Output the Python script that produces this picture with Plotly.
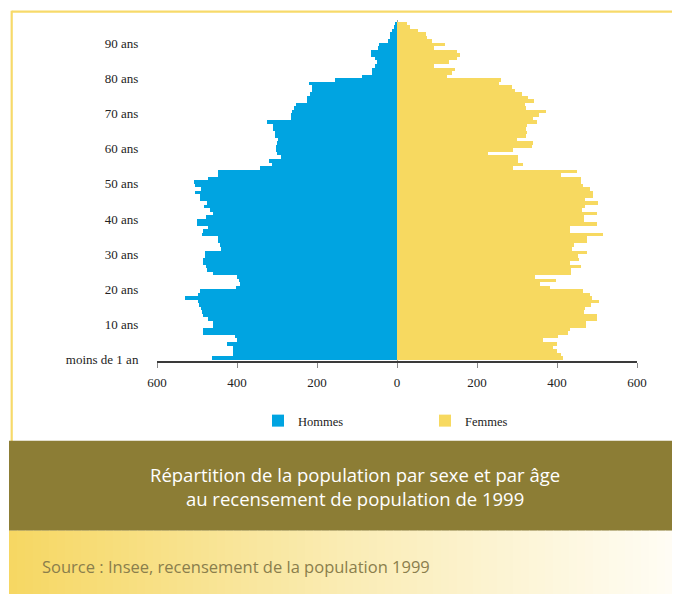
import plotly.graph_objects as go

# ---------------- data ----------------
ages = list(range(0, 96))

hommes = [
    462, 409, 411, 411, 424, 399, 405, 484, 484, 461,   # 0-9
    461, 472, 486, 488, 491, 495, 497, 530, 498, 492,   # 10-19
    403, 392, 394, 399, 459, 475, 478, 484, 486, 480,   # 20-29
    480, 440, 442, 447, 447, 488, 484, 472, 499, 499,   # 30-39
    478, 459, 467, 482, 476, 492, 492, 505, 490, 505,   # 40-49
    507, 472, 447, 447, 342, 313, 319, 291, 300, 302,   # 50-59
    302, 301, 297, 305, 305, 309, 311, 324, 266, 266,   # 60-69
    263, 257, 252, 226, 224, 217, 213, 213, 219, 155,   # 70-79
    87, 62, 62, 55, 51, 55, 66, 66, 47, 44,             # 80-89
    22, 17, 17, 13, 8, 5,                               # 90-95
]

femmes = [
    416, 409, 399, 391, 399, 366, 403, 427, 432, 472,   # 0-9
    472, 499, 499, 468, 470, 485, 506, 487, 483, 464,   # 10-19
    383, 357, 397, 345, 435, 435, 459, 432, 456, 453,   # 20-29
    474, 437, 443, 476, 476, 516, 432, 432, 499, 468,   # 30-39
    468, 501, 463, 470, 503, 470, 491, 491, 483, 466,   # 40-49
    459, 459, 410, 449, 289, 314, 302, 302, 228, 291,   # 50-59
    337, 339, 299, 322, 324, 322, 324, 349, 341, 356,   # 60-69
    372, 322, 320, 343, 328, 312, 295, 287, 256, 260,   # 70-79
    126, 137, 145, 93, 131, 149, 157, 149, 93, 120,     # 80-89
    87, 74, 72, 52, 32, 24,                             # 90-95
]

y_tickvals = [0, 10, 20, 30, 40, 50, 60, 70, 80, 90]
y_ticktext = ["moins de 1 an", "10 ans", "20 ans", "30 ans", "40 ans",
              "50 ans", "60 ans", "70 ans", "80 ans", "90 ans"]
x_tickvals = [-600, -400, -200, 0, 200, 400, 600]
x_ticktext = ["600", "400", "200", "0", "200", "400", "600"]

series_names = ["Hommes", "Femmes"]
title_lines = ["Répartition de la population par sexe et par âge",
               "au recensement de population de 1999"]
source_text = "Source : Insee, recensement de la population 1999"

# ---------------- style ----------------
BLUE = "#00A4E1"
YELLOW = "#F7D960"
OLIVE = "#8C7D35"
FRAME = "#F7DA6A"
SERIF = "Liberation Serif, Times New Roman, serif"
SANS = "Open Sans, Noto Sans, sans-serif"

W, H = 680, 594
OFF = 8  # page body margin: figure pixel = screen pixel - OFF
L, R, T, B = 157 - OFF, 637 - OFF, 20 - OFF, 361 - OFF


def px_x(x):
    """screen x (px) -> paper x"""
    return (x - OFF - L) / (R - L)


def px_y(y):
    """screen y (px) -> paper y"""
    return (B - (y - OFF)) / (B - T)


fig = go.Figure()
fig.add_trace(go.Bar(
    y=ages, x=[-v for v in hommes], orientation="h", name=series_names[0],
    marker=dict(color=BLUE, line=dict(width=0)),
    customdata=hommes, hovertemplate="%{y} : %{customdata}<extra>Hommes</extra>",
))
fig.add_trace(go.Bar(
    y=ages, x=femmes, orientation="h", name=series_names[1],
    marker=dict(color=YELLOW, line=dict(width=0)),
    hovertemplate="%{y} : %{x}<extra>Femmes</extra>",
))

shapes = []
# frame lines (top and left)
shapes.append(dict(type="line", xref="paper", yref="paper",
                   x0=px_x(11.7), x1=px_x(700), y0=px_y(11.7), y1=px_y(11.7),
                   line=dict(color=FRAME, width=2.2), layer="below"))
shapes.append(dict(type="line", xref="paper", yref="paper",
                   x0=px_x(11.7), x1=px_x(11.7), y0=px_y(10.7), y1=px_y(441),
                   line=dict(color=FRAME, width=2.2), layer="below"))
# title band
shapes.append(dict(type="rect", xref="paper", yref="paper",
                   x0=px_x(9), x1=px_x(700), y0=px_y(440.7), y1=px_y(530.7),
                   fillcolor=OLIVE, line=dict(width=0), layer="below"))
# source band gradient
c_left = (246, 215, 98)
c_mid = (250, 236, 180)
c_right = (255, 253, 246)
x_start, x_end, n = 9, 681, 84
step = (x_end - x_start) / n
for i in range(n):
    xa = x_start + i * step
    t = (i + 0.5) / n
    if t < 0.5:
        u = t / 0.5
        c = [c_left[k] + (c_mid[k] - c_left[k]) * u for k in range(3)]
    else:
        u = (t - 0.5) / 0.5
        c = [c_mid[k] + (c_right[k] - c_mid[k]) * u for k in range(3)]
    shapes.append(dict(type="rect", xref="paper", yref="paper",
                       x0=px_x(xa), x1=px_x(xa + step + 0.6),
                       y0=px_y(530.7), y1=px_y(600),
                       fillcolor="rgb(%d,%d,%d)" % tuple(int(round(v)) for v in c),
                       line=dict(width=0), layer="below"))

annotations = [
    dict(xref="paper", yref="paper", x=px_x(355), y=px_y(486.5),
         text="<br>".join(title_lines), showarrow=False,
         xanchor="center", yanchor="middle", align="center",
         font=dict(family=SANS, size=18.5, color="white")),
    dict(xref="paper", yref="paper", x=px_x(40), y=px_y(566.5),
         text=source_text, showarrow=False, xanchor="left", yanchor="middle",
         font=dict(family=SANS, size=16.5, color="#8A7E4C")),
]

fig.update_layout(
    width=W, height=H,
    margin=dict(l=L, r=W - R, t=T, b=H - B, pad=0),
    paper_bgcolor="white", plot_bgcolor="white",
    barmode="relative", bargap=0,
    font=dict(family=SERIF, size=13, color="#222222"),
    showlegend=True,
    legend=dict(orientation="h", x=px_x(258), y=px_y(421), xanchor="left", yanchor="middle",
                font=dict(family=SERIF, size=12.5, color="#222222"),
                entrywidth=122, entrywidthmode="pixels",
                bgcolor="rgba(0,0,0,0)", traceorder="normal"),
    shapes=shapes,
    annotations=annotations,
)

fig.update_xaxes(
    range=[-600, 600], tickvals=x_tickvals, ticktext=x_ticktext,
    showgrid=False, zeroline=True, zerolinecolor="#9AA89A", zerolinewidth=1,
    showline=True, linecolor="#3a3a3a", linewidth=1.5,
    ticks="outside", ticklen=5, tickcolor="#8a8a8a", tickwidth=1,
    ticklabelstandoff=4, layer="above traces",
    tickfont=dict(family=SERIF, size=13, color="#222222"),
)
fig.update_yaxes(
    range=[-0.9, 96], tickvals=y_tickvals, ticktext=y_ticktext,
    showgrid=False, zeroline=False, showline=False,
    ticks="outside", ticklen=15, tickcolor="rgba(0,0,0,0)",
    ticklabelshift=2,
    tickfont=dict(family=SERIF, size=13, color="#222222"),
)

fig.write_html("out.html")
